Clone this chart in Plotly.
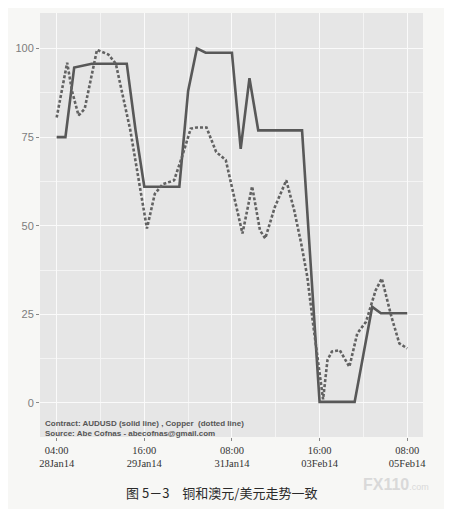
import plotly.graph_objects as go

# AUDUSD (solid line), one value per bar index
aud_x = list(range(41))
aud_y = [75, 75, 94.6, 95.2, 95.7, 95.7, 95.7, 95.7, 95.7, 77,
         61, 61, 61, 61, 61, 88, 100, 98.8, 98.8, 98.8,
         98.8, 71.7, 91.6, 76.9, 76.9, 76.9, 76.9, 76.9, 76.9, 38.5,
         0.3, 0.3, 0.3, 0.3, 0.3, 13.7, 27.1, 25.3, 25.3, 25.3, 25.3]

# Copper (dotted line)
cu_x = [0, 1.2, 1.75, 2.5, 3.2, 4.6, 5.9, 6.75, 8.4, 10.3,
        11.2, 12.1, 13.4, 14.3, 15.3, 16, 17.1, 18.2, 19.3, 21.2,
        22.3, 23.2, 23.8, 24.9, 26.2, 27.1, 27.9, 28.6, 29.3, 30.1,
        30.4, 30.9, 31.4, 32.3, 33.4, 34.3, 35.3, 36.4, 37.1, 38.2,
        39.1, 40]
cu_y = [80.5, 96, 88, 81.1, 83, 99.6, 98.3, 95.7, 77, 49.2,
        59, 61.7, 62.8, 69.4, 77.4, 77.7, 77.7, 70.8, 68.5, 47.8,
        61.1, 48.7, 46.4, 55.3, 62.8, 54.4, 45, 35.6, 21.5, 7.4,
        1, 12.1, 14.5, 14.9, 10.2, 19.6, 22.9, 31.8, 35.1, 24.3,
        16.8, 15.4]

x_ticks = [0, 10, 20, 30, 40]
x_labels = ["04:00<br>28Jan14", "16:00<br>29Jan14", "08:00<br>31Jan14",
            "16:00<br>03Feb14", "08:00<br>05Feb14"]
y_ticks = [0, 25, 50, 75, 100]

fig = go.Figure()
fig.add_trace(go.Scatter(x=aud_x, y=aud_y, mode="lines",
                         line=dict(color="#585858", width=2.6)))
fig.add_trace(go.Scatter(x=cu_x, y=cu_y, mode="lines",
                         line=dict(color="#626262", width=2.6, dash="3px,2px")))

# page body adds ~8px at top/left, so the figure is trimmed by that much
fig.update_layout(
    width=444, height=501,
    margin=dict(l=32, r=29, t=5, b=72),
    paper_bgcolor="#f7f7f5", plot_bgcolor="#e6e6e6",
    showlegend=False,
)
fig.update_xaxes(
    range=[-1.9, 41.8], tickvals=x_ticks, ticktext=x_labels,
    tickfont=dict(family="Liberation Serif", size=10.5, color="#333333"),
    ticks="outside", ticklen=3, tickcolor="#888888",
    showgrid=True, gridcolor="#fafafa", gridwidth=1.2,
    minor=dict(tickvals=[5, 15, 25, 35], showgrid=True,
               gridcolor="#f4f4f4", gridwidth=0.6),
    zeroline=False, showline=False,
)
fig.update_yaxes(
    range=[-9.6, 110], tickvals=y_ticks,
    tickfont=dict(family="Liberation Sans", size=11, color="#7d7d7d"),
    ticks="outside", ticklen=3, tickcolor="#888888",
    showgrid=True, gridcolor="#fafafa", gridwidth=1.2,
    minor=dict(tickvals=[12.5, 37.5, 62.5, 87.5], showgrid=True,
               gridcolor="#f4f4f4", gridwidth=0.6),
    zeroline=False, showline=False,
)

fig.add_annotation(
    x=0.008, xref="paper", y=-7.2, yref="y", xanchor="left", yanchor="middle",
    align="left", showarrow=False,
    text="<b>Contract: AUDUSD (solid line) , Copper  (dotted line)</b><br>"
         "<b>Source: Abe Cofnas - abecofnas@gmail.com</b>",
    font=dict(family="Liberation Sans", size=8, color="#555555"),
)
fig.add_annotation(
    x=0.475, xref="paper", y=-0.132, yref="paper", xanchor="center",
    yanchor="middle", showarrow=False,
    text="图 5－3　铜和澳元/美元走势一致",
    font=dict(family="Noto Sans CJK SC", size=13, color="#2a2a2a"),
)
fig.add_annotation(
    x=0.93, xref="paper", y=-0.111, yref="paper", xanchor="center",
    yanchor="middle", showarrow=False,
    text="<b>FX110</b><span style='font-size:9px'>.com</span>",
    font=dict(family="Liberation Sans", size=16, color="#d9d9d9"),
)

fig.write_html("out.html")
